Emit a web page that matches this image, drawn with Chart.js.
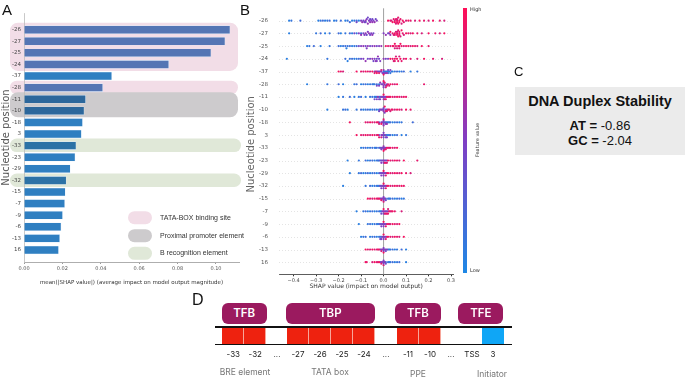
<!DOCTYPE html>
<html><head><meta charset="utf-8">
<script src="https://cdn.jsdelivr.net/npm/chart.js@4.4.1/dist/chart.umd.min.js"></script>
<style>
body{margin:0;width:685px;height:379px;background:#fff;position:relative;overflow:hidden;font-family:"Liberation Sans",Arial,sans-serif}
canvas{position:absolute}
.lbl{position:absolute;color:#111;line-height:1}
#boxC{position:absolute;left:515px;top:87px;width:170px;height:68px;background:#ebebeb;text-align:center;color:#111}
.pill{position:absolute;background:#9b1a5f;color:#fff;font-family:Inter,Roboto,sans-serif;font-weight:600;font-size:11.5px;border-radius:6px;display:flex;align-items:center;justify-content:center}
.cell{position:absolute;top:327.5px;height:16px;box-sizing:border-box;border-right:1px solid #f7a69a}
.hl{position:absolute;left:215px;width:297px;height:1.6px;background:#111}
.site{position:absolute;top:349px;font-family:Inter,Roboto,sans-serif;font-size:8px;color:#222;transform:translateX(-50%);white-space:nowrap}
.elem{position:absolute;top:367px;font-family:Inter,Roboto,sans-serif;font-size:8.5px;color:#777;transform:translateX(-50%);white-space:nowrap}
</style></head><body>
<canvas id="cA" width="250" height="292" style="left:0;top:0"></canvas>
<canvas id="cB" width="245" height="292" style="left:245px;top:0"></canvas>
<div class="lbl" style="left:2px;top:2px;font-size:15px">A</div>
<div class="lbl" style="left:240px;top:2px;font-size:15px">B</div>
<div class="lbl" style="left:514px;top:65px;font-size:13px">C</div>
<div class="lbl" style="left:192px;top:292px;font-size:16px">D</div>
<div id="boxC"></div>
<div id="panelD"></div>
<script>
// ---------- data ----------
const positions = ['-26','-27','-25','-24','-37','-28','-11','-10','-18','3','-33','-23','-29','-32','-15','-7','-9','-6','-13','16'];
const meanAbsShap = [0.1073,0.1047,0.0974,0.0754,0.0457,0.0410,0.0321,0.0313,0.0305,0.0299,0.0271,0.0266,0.0241,0.0220,0.0215,0.0212,0.0201,0.0193,0.0186,0.0180];
// region of each row: 0 none, 1 TATA-box, 2 proximal promoter, 3 B recognition
const rowRegion = [1,1,1,1,0,1,2,2,0,0,3,0,0,3,0,0,0,0,0,0];
const regionLabels = ['TATA-BOX binding site','Proximal promoter element','B recognition element'];
const barTicks = [0,0.02,0.04,0.06,0.08,0.10];
const shapTicks = [-0.4,-0.3,-0.2,-0.1,0,0.1,0.2,0.3];

// SHAP values per row, split by feature value (low / mid / high)
const shapLow = [
 [-0.42,-0.41,-0.37,-0.29,-0.28,-0.27,-0.26,-0.25,-0.24,-0.22,-0.21,-0.19,-0.17,-0.16,-0.15,-0.14,-0.13,-0.12,-0.11],
 [-0.42,-0.3,-0.28,-0.26,-0.24,-0.2,-0.19,-0.17,-0.15,-0.14,-0.12,-0.1],
 [-0.34,-0.33,-0.31,-0.28,-0.24,-0.2,-0.19,-0.18,-0.17,-0.165,-0.16,-0.15,-0.14,-0.13,-0.12],
 [-0.43,-0.25,-0.17,-0.16,-0.15,-0.14,-0.13,-0.12,-0.11],
 [0.0,0.005,0.01,0.015,0.02,0.02,0.025,0.03,0.035,0.04,0.05,0.06,0.07,0.08,0.09,0.12,0.15],
 [-0.34,-0.25,-0.2,-0.18,-0.13,-0.12,-0.1,-0.09,-0.08,-0.07,-0.06,-0.05,-0.045,-0.04,-0.03,-0.02],
 [-0.2,-0.18,-0.15,-0.13,-0.11,-0.1,-0.08,-0.06,-0.05,-0.04,-0.035,-0.03,-0.02,-0.015],
 [-0.25,-0.18,-0.17,-0.16,-0.12,-0.1,-0.09,-0.08,-0.07,-0.06,-0.05,-0.04,-0.03,-0.02],
 [0.0,0.01,0.015,0.02,0.025,0.03,0.04,0.05,0.06,0.07,0.08,0.13],
 [0.0,0.01,0.015,0.02,0.025,0.03,0.04,0.05,0.06,0.08,0.1],
 [-0.1,-0.09,-0.08,-0.07,-0.06,-0.05,-0.04,-0.035,-0.03,-0.02,-0.01],
 [-0.16,-0.11,-0.08,-0.07,-0.06,-0.05,-0.04,-0.03,-0.025,-0.02,-0.01],
 [-0.15,-0.11,-0.1,-0.09,-0.08,-0.07,-0.06,-0.05,-0.04,-0.03,-0.02,-0.01],
 [-0.18,-0.08,-0.06,-0.05,-0.04,-0.03,-0.025,-0.02,-0.01],
 [0.0,0.01,0.02,0.025,0.03,0.04,0.05,0.06,0.07,0.08,0.09],
 [-0.12,-0.09,-0.08,-0.07,-0.06,-0.05,-0.04,-0.03,-0.02,-0.015,-0.01],
 [-0.11,-0.07,-0.06,-0.05,-0.04,-0.03,-0.025,-0.02,-0.01],
 [-0.1,-0.09,-0.08,-0.06,-0.05,-0.04,-0.03,-0.02,-0.015,-0.01],
 [0.0,0.01,0.02,0.025,0.03,0.04,0.05,0.06,0.08,0.1],
 [0.0,0.01,0.02,0.025,0.03,0.04,0.05,0.06,0.07,0.1]
];
const shapMid = [
 [-0.12,-0.1,-0.095,-0.09,-0.085,-0.08,-0.08,-0.075,-0.07,-0.07,-0.065,-0.06,-0.06,-0.055,-0.05,-0.05,-0.045,-0.04,-0.035,-0.03],
 [-0.13,-0.11,-0.1,-0.09,-0.085,-0.08,-0.075,-0.07,-0.065,-0.06,-0.055,-0.05,-0.045,0.0,0.01,0.02,0.025,0.03],
 [-0.11,-0.1,-0.09,-0.08,-0.075,-0.07,-0.06,-0.05,-0.04,-0.03,-0.02,-0.01],
 [-0.1,-0.09,-0.08,-0.07,-0.06,-0.05,-0.045,-0.04,-0.035,-0.03,-0.03,-0.025,-0.02,-0.015,0.0,0.01,0.02],
 [-0.04,-0.03,-0.025,-0.02,-0.015,-0.01,-0.005,0.0,0.0,0.005,0.01,0.015,0.02,0.03],
 [-0.03,-0.02,-0.015,-0.01,-0.005,0.0,0.0,0.0,0.005,0.01,0.015],
 [-0.04,-0.03,-0.025,-0.02,-0.015,-0.01,-0.005,0.0,0.0,0.005,0.01],
 [-0.02,-0.015,-0.01,-0.005,0.0,0.0,0.0,0.005,0.01,0.015],
 [-0.02,-0.01,-0.005,0.0,0.0,0.0,0.005,0.01,0.015],
 [-0.02,-0.01,-0.005,0.0,0.0,0.005,0.01,0.015],
 [-0.015,-0.01,-0.005,0.0,0.0,0.0,0.005,0.01],
 [-0.015,-0.01,-0.005,0.0,0.0,0.005,0.01,0.015],
 [-0.015,-0.01,-0.005,0.0,0.0,0.005,0.01],
 [-0.015,-0.01,-0.005,0.0,0.0,0.005,0.01],
 [-0.015,-0.01,-0.005,0.0,0.0,0.005,0.01],
 [-0.01,-0.005,0.0,0.0,0.005,0.01,0.015,0.02],
 [-0.015,-0.01,-0.005,0.0,0.0,0.005,0.01],
 [-0.015,-0.01,-0.005,0.0,0.0,0.005,0.01],
 [-0.015,-0.01,-0.005,0.0,0.0,0.005,0.01,0.015],
 [-0.015,-0.01,-0.005,0.0,0.0,0.005,0.01]
];
const shapHigh = [
 [0.02,0.03,0.035,0.04,0.045,0.05,0.05,0.055,0.055,0.06,0.06,0.06,0.065,0.065,0.07,0.07,0.075,0.08,0.085,0.09,0.1,0.11,0.12,0.14,0.16,0.18,0.2,0.22,0.25,0.27],
 [0.03,0.04,0.045,0.05,0.05,0.055,0.06,0.06,0.06,0.065,0.065,0.07,0.07,0.07,0.075,0.08,0.085,0.09,0.1,0.11,0.12,0.13,0.15,0.17,0.2,0.23,0.25,0.27],
 [0.01,0.02,0.03,0.04,0.045,0.05,0.05,0.055,0.06,0.065,0.07,0.07,0.075,0.08,0.09,0.1,0.11,0.12,0.13,0.14,0.15,0.17,0.2],
 [0.03,0.04,0.045,0.05,0.05,0.055,0.06,0.065,0.07,0.075,0.08,0.09,0.1,0.12,0.15,0.18,0.22,0.26],
 [-0.2,-0.19,-0.18,-0.12,-0.1,-0.09,-0.08,-0.07,-0.06,-0.05,-0.04,-0.035,-0.03,-0.02,-0.01,0.0],
 [0.0,0.005,0.01,0.015,0.02,0.025,0.03,0.04,0.05,0.06,0.18],
 [0.0,0.005,0.01,0.015,0.02,0.025,0.03,0.04,0.05,0.06,0.07,0.08,0.09,0.1],
 [0.005,0.01,0.015,0.02,0.025,0.03,0.035,0.04,0.05,0.06,0.07,0.08,0.1,0.12],
 [-0.15,-0.08,-0.07,-0.06,-0.05,-0.04,-0.03,-0.025,-0.02,-0.01,0.0],
 [-0.12,-0.1,-0.09,-0.08,-0.07,-0.06,-0.05,-0.04,-0.03,-0.025,-0.02,-0.01],
 [0.0,0.005,0.01,0.015,0.02,0.025,0.03,0.04,0.05,0.06],
 [0.005,0.01,0.015,0.02,0.03,0.04,0.05,0.06,0.07,0.09,0.15],
 [0.0,0.01,0.015,0.02,0.03,0.04,0.05,0.06,0.07,0.08,0.1,0.12],
 [0.0,0.01,0.015,0.02,0.03,0.04,0.05,0.06,0.07,0.08,0.09],
 [-0.07,-0.06,-0.05,-0.04,-0.03,-0.025,-0.02,-0.01,0.0],
 [0.0,0.005,0.01,0.015,0.02,0.02,0.025,0.03,0.035,0.04,0.05,0.08],
 [0.0,0.01,0.015,0.02,0.025,0.03,0.04,0.05,0.06,0.07],
 [0.0,0.01,0.015,0.02,0.03,0.04,0.05,0.06,0.07,0.09],
 [-0.08,-0.07,-0.06,-0.05,-0.04,-0.03,-0.025,-0.02,-0.01,0.0],
 [-0.08,-0.075,-0.05,-0.04,-0.03,-0.025,-0.02,-0.01,0.0]
];

// panel C
const stabilityTitle = 'DNA Duplex Stability';
const stabilityNames = ['AT','GC'];
const stabilityValues = [-0.86,-2.04];

// panel D
const complexLabels = ['TFB','TBP','TFB','TFE'];
const siteLabels = ['-33','-32','...','-27','-26','-25','-24','...','-11','-10','...','TSS','3'];
const siteKinds = ['r','r','','r','r','r','r','','r','r','','','b'];
const elementLabels = ['BRE element','TATA box','PPE','Initiator'];

// ---------- styling ----------
const regionFill = ['', '#f2dde7', '#cdcbcd', '#e0e8d8'];
const barFill = ['#2f7fc1', '#5475b4', '#2c679b', '#2c72a6'];
const F = 'DejaVu Sans';

// ---------- Panel A ----------
const bandsPlugin = {
  id:'bands',
  beforeDraw(chart){
    const {ctx} = chart, y = chart.scales.y;
    let i = 0;
    while (i < rowRegion.length){
      const r = rowRegion[i];
      if (!r){ i++; continue; }
      let j = i; while (j+1 < rowRegion.length && rowRegion[j+1] === r) j++;
      const top = y.getPixelForValue(i) - 7, bot = y.getPixelForValue(j) + 6.5;
      const x0 = 10, x1 = r === 3 ? 241 : 238;
      const rad = Math.min(8, (bot-top)/2);
      ctx.save(); ctx.fillStyle = regionFill[r];
      ctx.beginPath(); ctx.roundRect(x0, top, x1-x0, bot-top, rad); ctx.fill(); ctx.restore();
      i = j+1;
    }
  },
  afterDraw(chart){
    const {ctx} = chart;
    const cy = [217.7, 235.7, 253.3];
    ctx.save();
    regionLabels.forEach((t,k)=>{
      ctx.fillStyle = regionFill[k+1];
      ctx.beginPath(); ctx.roundRect(128, cy[k]-6.5, 24, 13, 6.5); ctx.fill();
      ctx.fillStyle = '#333'; ctx.font = '7px "Liberation Sans", Arial';
      ctx.textBaseline = 'middle'; ctx.fillText(t, 160, cy[k]);
    });
    ctx.restore();
  }
};

new Chart(document.getElementById('cA'), {
  type:'bar',
  data:{datasets:[{
    data: meanAbsShap.map((v,i)=>({x:v, y:i})),
    backgroundColor: rowRegion.map(r=>barFill[r]),
    borderColor:'rgba(220,235,250,0.8)', borderWidth:0.6, barThickness:8
  }]},
  options:{
    indexAxis:'y', responsive:false, animation:false, devicePixelRatio:1,
    layout:{padding:{top:13,right:11,left:0,bottom:0}},
    plugins:{legend:{display:false}, tooltip:{enabled:false}},
    scales:{
      x:{type:'linear', min:0, max:0.112,
        afterBuildTicks:s=>{s.ticks = barTicks.map(v=>({value:v}));},
        ticks:{callback:v=>v.toFixed(2), font:{size:5,family:F}, color:'#555', padding:2, maxRotation:0},
        grid:{drawOnChartArea:false, tickLength:2, color:'#999'},
        border:{color:'#999', width:0.8},
        title:{display:true, text:'mean(|SHAP value|) (average impact on model output magnitude)', font:{size:5.5,family:F}, color:'#333', padding:{top:1,bottom:6}},
        afterFit:s=>{s.height = 30;}
      },
      y:{type:'linear', reverse:true, min:-0.9, max:19.5,
        afterBuildTicks:s=>{s.ticks = positions.map((p,i)=>({value:i}));},
        ticks:{callback:(v)=>positions[v], autoSkip:false, font:{size:5.5,family:F}, color:'#444', padding:3},
        grid:{display:false, drawTicks:false, tickLength:0},
        border:{color:'#bbb', width:0.8},
        title:{display:true, text:'Nucleotide position', font:{size:10,family:F}, color:'#555', padding:{top:0,bottom:0}},
        afterFit:s=>{s.width = 24;}
      }
    }
  },
  plugins:[bandsPlugin]
});

// ---------- Panel B ----------
const lowC = [30,136,229], midC = [128,62,196], highC = [255,14,87];
function mix(a,b,t){return a.map((v,k)=>Math.round(v+(b[k]-v)*t));}
function fcol(f){const c = f<0.5 ? mix(lowC,midC,f/0.5) : mix(midC,highC,(f-0.5)/0.5); return `rgb(${c[0]},${c[1]},${c[2]})`;}

const pts = [], cols = [];
positions.forEach((p,row)=>{
  const items = [];
  shapLow[row].forEach((v,i)=>items.push({v, f:0.06+0.06*(i%3)}));
  shapMid[row].forEach((v,i)=>items.push({v, f:0.42+0.08*(i%3)}));
  shapHigh[row].forEach((v,i)=>items.push({v, f:0.96-0.06*(i%3)}));
  // beeswarm layout (same stacking rule as the SHAP summary plot)
  const vals = items.map(o=>o.v);
  const mn = Math.min(...vals), mx = Math.max(...vals), nb = 60;
  const q = items.map(o=>Math.round(nb*(o.v-mn)/(mx-mn+1e-8)));
  const order = items.map((o,i)=>i).sort((a,b)=>q[a]-q[b] || a-b);
  let layer = 0, last = -1; const ys = new Array(items.length).fill(0);
  order.forEach(ind=>{
    if (q[ind] !== last) layer = 0;
    ys[ind] = Math.ceil(layer/2) * ((layer%2)*2-1);
    layer++; last = q[ind];
  });
  const m = Math.max(...ys.map(y=>Math.abs(y)+1));
  items.forEach((o,i)=>{
    pts.push({x:o.v, y: row + ys[i]*0.9*(0.4/m)});
    cols.push(fcol(o.f));
  });
});

const beePlugin = {
  id:'bee',
  beforeDatasetsDraw(chart){
    const {ctx, chartArea:a} = chart, y = chart.scales.y, x = chart.scales.x;
    ctx.save();
    ctx.strokeStyle = '#d8d8d8'; ctx.lineWidth = 0.7; ctx.setLineDash([1,2]);
    positions.forEach((p,i)=>{const py = Math.round(y.getPixelForValue(i))+0.5; ctx.beginPath(); ctx.moveTo(a.left,py); ctx.lineTo(a.right,py); ctx.stroke();});
    ctx.setLineDash([]);
    const px = x.getPixelForValue(0);
    ctx.strokeStyle = '#a0a0a0'; ctx.lineWidth = 1;
    ctx.beginPath(); ctx.moveTo(px, a.top-6); ctx.lineTo(px, a.bottom); ctx.stroke();
    ctx.restore();
  },
  afterDraw(chart){
    const {ctx} = chart;
    const x0 = 218, y0 = 8, y1 = 273;
    const g = ctx.createLinearGradient(0,y0,0,y1);
    g.addColorStop(0, fcol(1)); g.addColorStop(0.5, fcol(0.5)); g.addColorStop(1, fcol(0));
    ctx.save();
    ctx.fillStyle = g; ctx.fillRect(x0, y0, 4, y1-y0);
    ctx.fillStyle = '#333'; ctx.font = '5px "DejaVu Sans"'; ctx.textBaseline = 'middle';
    ctx.fillText('High', 225, y0+2); ctx.fillText('Low', 225, y1-2);
    ctx.translate(233, 140); ctx.rotate(-Math.PI/2); ctx.textAlign = 'center';
    ctx.fillText('Feature value', 0, 0);
    ctx.restore();
  }
};

new Chart(document.getElementById('cB'), {
  type:'scatter',
  data:{datasets:[{data:pts, pointBackgroundColor:cols, pointRadius:1.1, pointBorderWidth:0, pointHoverRadius:0}]},
  options:{
    responsive:false, animation:false, devicePixelRatio:1,
    layout:{padding:{top:13,right:36.7,left:0,bottom:0}},
    plugins:{legend:{display:false}, tooltip:{enabled:false}},
    scales:{
      x:{type:'linear', min:-0.465, max:0.31,
        afterBuildTicks:s=>{s.ticks = shapTicks.map(v=>({value:v}));},
        ticks:{callback:v=>v===0?'0.0':(v<0?'\u22120.':'0.')+Math.round(Math.abs(v)*10), font:{size:5,family:F}, color:'#444', padding:1.5, maxRotation:0},
        grid:{drawOnChartArea:false, tickLength:2, color:'#333'},
        border:{color:'#333', width:0.8},
        title:{display:true, text:'SHAP value (impact on model output)', font:{size:6,family:F}, color:'#333', padding:{top:0,bottom:2}},
        afterFit:s=>{s.height = 17.7;}
      },
      y:{type:'linear', reverse:true, min:-0.5, max:19.95,
        afterBuildTicks:s=>{s.ticks = positions.map((p,i)=>({value:i}));},
        ticks:{callback:(v)=>positions[v], autoSkip:false, font:{size:5.5,family:F}, color:'#555', padding:11},
        grid:{display:false, drawTicks:false, tickLength:0},
        border:{display:false},
        title:{display:true, text:'Nucleotide position', font:{size:10,family:F}, color:'#666', padding:{top:0,bottom:0}},
        afterFit:s=>{s.width = 34;}
      }
    }
  },
  plugins:[beePlugin]
});

// ---------- Panel C ----------
(function(){
  const box = document.getElementById('boxC');
  let html = `<div style="position:absolute;left:0;right:0;top:6px;font-weight:bold;font-size:14.5px">${stabilityTitle}</div>`;
  stabilityNames.forEach((n,i)=>{
    html += `<div style="position:absolute;left:0;right:0;top:${31+i*15}px;font-size:13px"><b>${n} =</b> ${stabilityValues[i].toFixed(2)}</div>`;
  });
  box.innerHTML = html;
})();

// ---------- Panel D ----------
(function(){
  const d = document.getElementById('panelD');
  const pillX = [[221.7,266.7],[285.7,375],[395,440.7],[458.3,503.3]];
  let html = '';
  complexLabels.forEach((t,i)=>{
    html += `<div class="pill" style="left:${pillX[i][0]}px;top:302.7px;width:${pillX[i][1]-pillX[i][0]}px;height:21.3px">${t}</div>`;
  });
  const siteX = [233.3,255.3,277,298,320,342,364,386,408,430,451,472,493];
  siteLabels.forEach((s,i)=>{
    if (siteKinds[i]) {
      const c = siteKinds[i]==='r' ? '#ee220f' : '#0fa6f6';
      html += `<div class="cell" style="left:${siteX[i]-11}px;width:22px;background:${c};${siteKinds[i]==='b'?'border-right:none;':''}"></div>`;
    }
    html += `<div class="site" style="left:${siteX[i]}px">${s}</div>`;
  });
  html += `<div class="hl" style="top:326px"></div><div class="hl" style="top:343.5px"></div>`;
  const elemX = [245,330,418,492];
  elementLabels.forEach((t,i)=>{ html += `<div class="elem" style="left:${elemX[i]}px;top:${i===2||i===3?369:367}px">${t}</div>`; });
  d.innerHTML = html;
})();
</script>
</body></html>
